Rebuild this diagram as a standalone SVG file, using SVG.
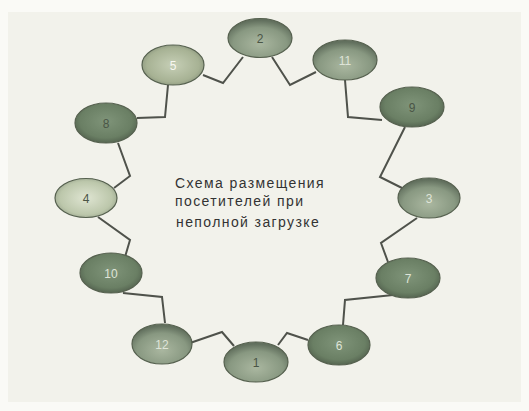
<svg xmlns="http://www.w3.org/2000/svg" width="529" height="411" viewBox="0 0 529 411">
<defs>
<radialGradient id="gDark" cx="50%" cy="45%" r="60%">
<stop offset="0" stop-color="#7f9479"/>
<stop offset="0.7" stop-color="#6a7f64"/>
<stop offset="1" stop-color="#4e5c4a"/>
</radialGradient>
<radialGradient id="gMid" cx="50%" cy="65%" r="60%">
<stop offset="0" stop-color="#aab7a0"/>
<stop offset="0.7" stop-color="#889881"/>
<stop offset="1" stop-color="#62705e"/>
</radialGradient>
<radialGradient id="gLight" cx="50%" cy="50%" r="60%">
<stop offset="0" stop-color="#dfe5d2"/>
<stop offset="0.7" stop-color="#bcc7ab"/>
<stop offset="1" stop-color="#8f9a84"/>
</radialGradient>
<radialGradient id="gLight2" cx="50%" cy="50%" r="60%">
<stop offset="0" stop-color="#c6cfb6"/>
<stop offset="0.7" stop-color="#a7b294"/>
<stop offset="1" stop-color="#7f8a74"/>
</radialGradient>
<style>
.n ellipse{stroke:#56614f;stroke-width:1.2}
.n text{font-family:"Liberation Sans",Arial,sans-serif;font-size:12px;fill:#dfe4d8;text-anchor:middle;dominant-baseline:central}
.n text.d{fill:#4a5546}
.n text.w{fill:#f8f8f2}
.c polyline{fill:none;stroke:#4f524b;stroke-width:2;stroke-linejoin:miter}
.t{font-family:"Liberation Sans",Arial,sans-serif;font-size:14px;fill:#333333;letter-spacing:1.4px}
</style>
</defs>
<rect x="0" y="0" width="529" height="411" fill="#fafaf6"/>
<rect x="8" y="12" width="513" height="390" fill="#f2f2eb"/>
<g id="connectors" class="c">
<polyline points="203,75 223,83 243,57"/>
<polyline points="272,57 290,85 316,72"/>
<polyline points="345,80 348,117 382,120"/>
<polyline points="405,127 380,177 402,188"/>
<polyline points="417,218 381,243 388,262"/>
<polyline points="393,295 345,300 343,325"/>
<polyline points="308,340 287,333 278,345"/>
<polyline points="234,346 222,332 190,343"/>
<polyline points="165,323 162,297 123,293"/>
<polyline points="125,257 130,240 98,217"/>
<polyline points="114,188 130,176 118,143"/>
<polyline points="137,118 165,117 168,85"/>
</g>
<g id="node-2" class="n"><ellipse cx="260" cy="38" rx="32" ry="19.5" fill="url(#gMid)"/><text class="d" x="260" y="39">2</text></g>
<g id="node-11" class="n"><ellipse cx="345" cy="60" rx="32" ry="20" fill="url(#gMid)"/><text x="345" y="61">11</text></g>
<g id="node-9" class="n"><ellipse cx="412" cy="107" rx="32" ry="20" fill="url(#gDark)"/><text class="d" x="412" y="108">9</text></g>
<g id="node-3" class="n"><ellipse cx="429" cy="198" rx="31" ry="20" fill="url(#gMid)"/><text x="429" y="199">3</text></g>
<g id="node-7" class="n"><ellipse cx="408" cy="278" rx="32" ry="20" fill="url(#gDark)"/><text x="408" y="279">7</text></g>
<g id="node-6" class="n"><ellipse cx="339" cy="345" rx="31" ry="20" fill="url(#gDark)"/><text x="339" y="346">6</text></g>
<g id="node-1" class="n"><ellipse cx="256" cy="362" rx="32" ry="20" fill="url(#gMid)"/><text class="d" x="256" y="363">1</text></g>
<g id="node-12" class="n"><ellipse cx="162" cy="344" rx="30" ry="20" fill="url(#gMid)"/><text x="162" y="345">12</text></g>
<g id="node-10" class="n"><ellipse cx="111" cy="273" rx="31" ry="20" fill="url(#gDark)"/><text x="111" y="274">10</text></g>
<g id="node-4" class="n"><ellipse cx="86" cy="198" rx="31" ry="19.5" fill="url(#gLight)"/><text class="d" x="86" y="199">4</text></g>
<g id="node-8" class="n"><ellipse cx="106" cy="123" rx="31" ry="20" fill="url(#gDark)"/><text class="d" x="106" y="124">8</text></g>
<g id="node-5" class="n"><ellipse cx="173" cy="65" rx="31" ry="20" fill="url(#gLight2)"/><text class="w" x="173" y="66">5</text></g>
<g id="label">
<text class="t" x="175" y="188">Схема размещения</text>
<text class="t" x="175" y="206">посетителей при</text>
<text class="t" x="176" y="227">неполной загрузке</text>
</g>
</svg>
